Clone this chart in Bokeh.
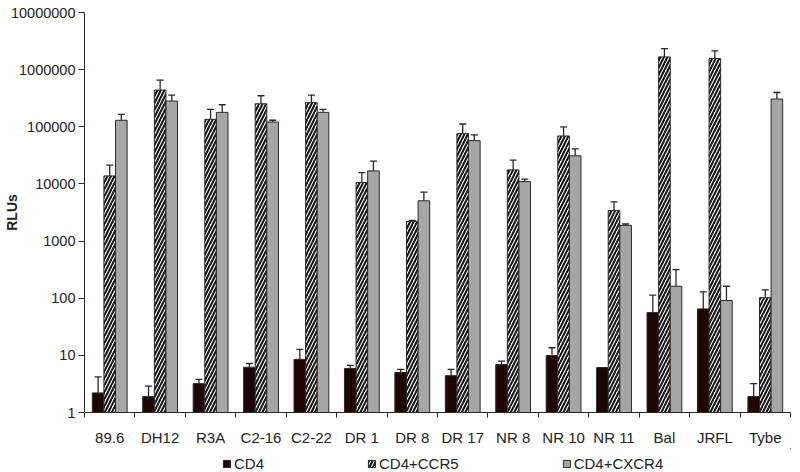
from bokeh.plotting import figure
from bokeh.layouts import column
from bokeh.models import (ColumnDataSource, Whisker, TeeHead, FixedTicker,
                          NumeralTickFormatter, Legend, LegendItem, Range1d)
from bokeh.embed import file_html
from bokeh.resources import INLINE

labels = ["89.6", "DH12", "R3A", "C2-16", "C2-22", "DR 1", "DR 8", "DR 17",
          "NR 8", "NR 10", "NR 11", "Bal", "JRFL", "Tybe"]
cd4 = [2.2, 1.9, 3.2, 6.2, 8.5, 5.9, 5.0, 4.4, 6.9, 9.9, 6.1, 56, 65, 1.9]
cd4_sd = [2.0, 1.0, 0.6, 1.0, 4.2, 0.8, 0.7, 1.3, 1.0, 3.7, 0.0, 57, 64, 1.3]
ccr5 = [13800, 439000, 135000, 253000, 264000, 10600, 2210, 75800, 17600,
        69000, 3430, 1670000, 1570000, 102]
ccr5_sd = [7500, 217000, 67000, 96000, 95000, 5200, 90, 36000, 8400,
           31000, 1440, 670000, 560000, 38]
cxcr4 = [130000, 282000, 179000, 121000, 179000, 16900, 5070, 57200, 11000,
         31000, 1880, 162, 91, 306000]
cxcr4_sd = [35000, 77000, 64000, 9000, 23000, 8100, 2130, 14800, 1100,
            10000, 110, 155, 71, 92000]
y_ticks = [1, 10, 100, 1000, 10000, 100000, 1000000, 10000000]
series_names = ["CD4", "CD4+CCR5", "CD4+CXCR4"]

n = len(labels)
centers = [i + 0.5 for i in range(n)]
bw = 0.23
FONT = "Liberation Sans"
TXT = "#222222"
edge = "#2e2626"

p = figure(width=792, height=448, output_backend="svg", toolbar_location=None,
           y_axis_type="log", x_range=Range1d(0, n), y_range=Range1d(1, 1e7),
           min_border_left=79, min_border_right=2, min_border_top=12,
           min_border_bottom=35)
p.outline_line_color = None
p.xgrid.visible = False
p.ygrid.visible = False

styles = [
    dict(fill_color="#1f0606", line_color=edge),
    dict(fill_color="white", line_color=edge, hatch_pattern="/",
         hatch_color="#111111", hatch_weight=2.0, hatch_scale=7),
    dict(fill_color="#a6a6a6", line_color=edge),
]
vals = [cd4, ccr5, cxcr4]
sds = [cd4_sd, ccr5_sd, cxcr4_sd]
offsets = [-bw, 0.0, bw]
for k in range(3):
    xs = [c + offsets[k] for c in centers]
    src = ColumnDataSource(dict(x=xs, top=vals[k],
                                upper=[v + s for v, s in zip(vals[k], sds[k])]))
    p.vbar(x="x", top="top", bottom=1, width=bw, source=src,
           line_width=1, **styles[k])
    w = Whisker(base="x", lower="top", upper="upper", source=src,
                line_color=edge, line_width=1.3, lower_head=None,
                upper_head=TeeHead(size=7, line_color=edge, line_width=1.3))
    p.add_layout(w)

ax = p.xaxis[0]
ax.ticker = FixedTicker(ticks=centers, minor_ticks=list(range(n + 1)))
ax.major_label_overrides = {c: l for c, l in zip(centers, labels)}
ax.major_tick_line_color = None
ax.minor_tick_line_color = edge
ax.minor_tick_in = 0
ax.minor_tick_out = 5
ax.axis_line_color = edge
ax.major_label_text_font = FONT
ax.major_label_text_font_size = "15px"
ax.major_label_text_color = TXT
ax.major_label_standoff = 10

ay = p.yaxis[0]
ay.ticker = FixedTicker(ticks=y_ticks)
ay.formatter = NumeralTickFormatter(format="0")
ay.major_tick_in = 0
ay.major_tick_out = 6
ay.major_tick_line_color = edge
ay.minor_tick_line_color = None
ay.axis_line_color = edge
ay.major_label_text_font = FONT
ay.major_label_text_font_size = "14.5px"
ay.major_label_text_color = TXT
ay.major_label_standoff = 3
ay.axis_label = "RLUs"
ay.axis_label_text_font = FONT
ay.axis_label_text_font_style = "bold"
ay.axis_label_text_font_size = "14px"
ay.axis_label_text_color = TXT
ay.axis_label_standoff = -12

# legend strip (swatch renderers sit outside the visible range)
lg = figure(width=792, height=24, output_backend="svg", toolbar_location=None,
            x_range=Range1d(0, 1), y_range=Range1d(0, 1),
            x_axis_location=None, y_axis_location=None,
            min_border_left=79, min_border_right=2, min_border_top=0,
            min_border_bottom=0)
lg.outline_line_color = None
lg.xgrid.visible = False
lg.ygrid.visible = False
items = []
for k in range(3):
    r = lg.vbar(x=[5], top=[6], bottom=[5], width=0.1, line_width=1, **styles[k])
    items.append(LegendItem(label=series_names[k], renderers=[r]))
legend = Legend(items=items, orientation="horizontal", location=(138, 0),
                glyph_width=9, glyph_height=9, label_standoff=3, label_height=12,
                spacing=103, padding=0, margin=0,
                label_text_font=FONT, label_text_font_size="15px",
                label_text_color=TXT, border_line_color=None,
                background_fill_alpha=0)
lg.add_layout(legend, "center")

layout = column(p, lg, spacing=0)
open("out.html", "w").write(file_html(layout, INLINE))
